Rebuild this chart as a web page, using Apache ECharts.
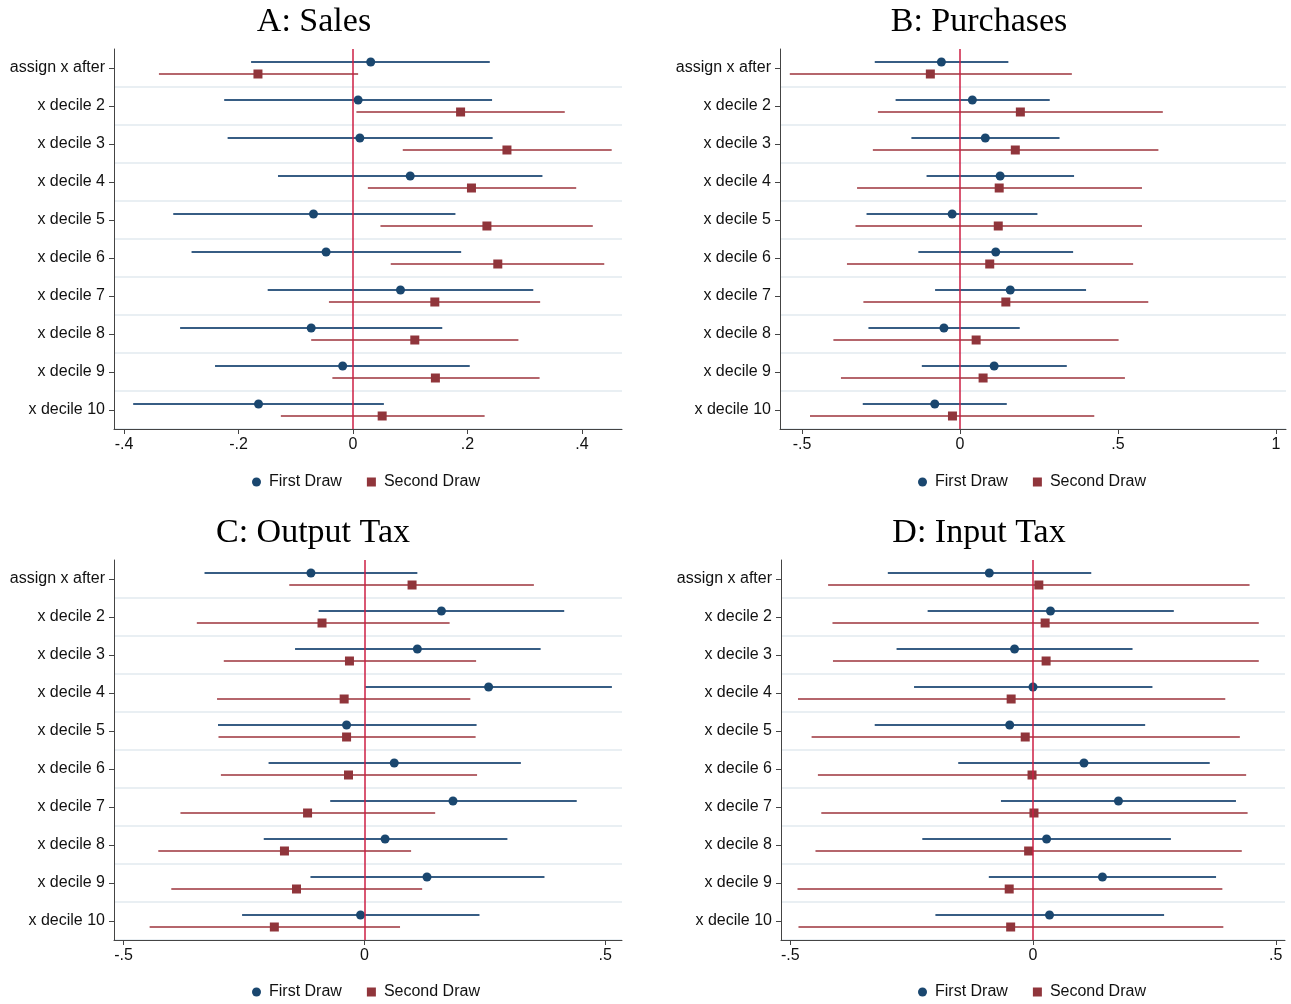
<!DOCTYPE html>
<html>
<head>
<meta charset="utf-8">
<script src="https://cdn.jsdelivr.net/npm/echarts@6/dist/echarts.min.js"></script>
<style>
html,body{margin:0;padding:0;background:#fff;}
#chart{width:1291px;height:1004px;}
</style>
</head>
<body>
<div id="chart"></div>
<script>
// ---------- data ----------
const categories = ['assign x after','x decile 2','x decile 3','x decile 4','x decile 5','x decile 6','x decile 7','x decile 8','x decile 9','x decile 10'];
const panelTitles = ['A: Sales','B: Purchases','C: Output Tax','D: Input Tax'];
const seriesNames = ['First Draw','Second Draw'];

// A: Sales
const salesFirst   = [0.031, 0.009, 0.012, 0.100, -0.069, -0.047, 0.083, -0.073, -0.018, -0.165];
const salesFirstLo = [-0.178, -0.225, -0.219, -0.131, -0.314, -0.282, -0.149, -0.302, -0.241, -0.384];
const salesFirstHi = [0.239, 0.243, 0.244, 0.331, 0.179, 0.189, 0.315, 0.156, 0.204, 0.054];
const salesSecond   = [-0.166, 0.188, 0.269, 0.207, 0.234, 0.253, 0.143, 0.108, 0.144, 0.051];
const salesSecondLo = [-0.339, 0.006, 0.087, 0.026, 0.048, 0.066, -0.042, -0.073, -0.036, -0.126];
const salesSecondHi = [0.009, 0.370, 0.452, 0.390, 0.419, 0.439, 0.327, 0.289, 0.326, 0.230];

// B: Purchases
const purchFirst   = [-0.059, 0.039, 0.080, 0.127, -0.025, 0.113, 0.159, -0.051, 0.108, -0.080];
const purchFirstLo = [-0.270, -0.204, -0.154, -0.106, -0.296, -0.132, -0.079, -0.290, -0.121, -0.308];
const purchFirstHi = [0.153, 0.284, 0.315, 0.361, 0.245, 0.358, 0.399, 0.189, 0.338, 0.148];
const purchSecond   = [-0.094, 0.191, 0.175, 0.124, 0.121, 0.094, 0.145, 0.051, 0.073, -0.024];
const purchSecondLo = [-0.539, -0.260, -0.276, -0.326, -0.331, -0.358, -0.306, -0.401, -0.377, -0.475];
const purchSecondHi = [0.354, 0.642, 0.628, 0.576, 0.576, 0.548, 0.596, 0.502, 0.522, 0.425];

// C: Output Tax
const outFirst   = [-0.111, 0.160, 0.110, 0.258, -0.037, 0.062, 0.184, 0.043, 0.130, -0.008];
const outFirstLo = [-0.332, -0.095, -0.144, 0.002, -0.304, -0.199, -0.071, -0.209, -0.112, -0.254];
const outFirstHi = [0.110, 0.415, 0.366, 0.514, 0.233, 0.325, 0.441, 0.297, 0.374, 0.239];
const outSecond   = [0.099, -0.088, -0.031, -0.042, -0.037, -0.033, -0.118, -0.166, -0.141, -0.187];
const outSecondLo = [-0.156, -0.348, -0.292, -0.306, -0.303, -0.298, -0.382, -0.428, -0.401, -0.446];
const outSecondHi = [0.352, 0.177, 0.232, 0.220, 0.231, 0.234, 0.147, 0.097, 0.120, 0.074];

// D: Input Tax
const inFirst   = [-0.090, 0.036, -0.038, 0.000, -0.048, 0.105, 0.176, 0.028, 0.143, 0.034];
const inFirstLo = [-0.299, -0.217, -0.281, -0.245, -0.326, -0.154, -0.066, -0.228, -0.091, -0.201];
const inFirstHi = [0.120, 0.290, 0.205, 0.246, 0.231, 0.364, 0.418, 0.284, 0.377, 0.270];
const inSecond   = [0.012, 0.025, 0.027, -0.045, -0.016, -0.002, 0.002, -0.009, -0.049, -0.046];
const inSecondLo = [-0.422, -0.413, -0.412, -0.484, -0.456, -0.443, -0.436, -0.448, -0.485, -0.483];
const inSecondHi = [0.446, 0.465, 0.465, 0.396, 0.426, 0.439, 0.442, 0.430, 0.390, 0.392];

// x-axis tick labels per panel
const ticksA = [-0.4, -0.2, 0, 0.2, 0.4];
const ticksB = [-0.5, 0, 0.5, 1];
const ticksC = [-0.5, 0, 0.5];
const ticksD = [-0.5, 0, 0.5];

// ---------- layout & style ----------
const panels = [
  {first:[salesFirst,salesFirstLo,salesFirstHi], second:[salesSecond,salesSecondLo,salesSecondHi], ticks:ticksA,
   grid:{left:114, top:49, width:508, height:380}, xmin:-0.4175, xmax:0.47, titleX:309, titleY:0, legendX:247, legendY:469},
  {first:[purchFirst,purchFirstLo,purchFirstHi], second:[purchSecond,purchSecondLo,purchSecondHi], ticks:ticksB,
   grid:{left:780, top:49, width:506, height:380}, xmin:-0.570, xmax:1.032, titleX:974, titleY:0, legendX:913, legendY:469},
  {first:[outFirst,outFirstLo,outFirstHi], second:[outSecond,outSecondLo,outSecondHi], ticks:ticksC,
   grid:{left:114, top:560, width:508, height:380}, xmin:-0.520, xmax:0.535, titleX:308, titleY:511, legendX:247, legendY:979},
  {first:[inFirst,inFirstLo,inFirstHi], second:[inSecond,inSecondLo,inSecondHi], ticks:ticksD,
   grid:{left:781, top:560, width:504, height:380}, xmin:-0.519, xmax:0.519, titleX:974, titleY:511, legendX:913, legendY:979}
];

const NAVY = '#1a476f', MAROON = '#90353b';
const NAVY_CI = '#375d84', MAROON_CI = '#b5666c';
const ZERO = '#cc1f44';
const SANS = 'Liberation Sans';

function fmtTick(v) {
  if (v === 0) return '0';
  let s = String(Math.round(v * 100) / 100);
  return s.replace(/^(-?)0\./, '$1.');
}

function ciSeries(name, idx, lo, hi, color, dy) {
  return {
    type: 'custom', name: name, xAxisIndex: idx, yAxisIndex: idx, silent: true, z: 2,
    data: categories.map((c, i) => [lo[i], hi[i], i]),
    encode: {x: [0, 1], y: 2},
    renderItem: function (params, api) {
      const a = api.coord([api.value(0), api.value(2)]);
      const b = api.coord([api.value(1), api.value(2)]);
      return {type: 'line', shape: {x1: a[0], y1: a[1] + dy, x2: b[0], y2: b[1] + dy},
              style: {stroke: color, lineWidth: 2}};
    }
  };
}

const option = {
  backgroundColor: '#fff',
  animation: false,
  title: [], grid: [], xAxis: [], yAxis: [], legend: [], series: []
};

panels.forEach((p, k) => {
  option.title.push({
    text: panelTitles[k], left: p.titleX, top: p.titleY, textAlign: 'center',
    textStyle: {fontFamily: 'Liberation Serif', fontSize: 34, fontWeight: 'normal', color: '#000'}
  });
  option.grid.push(Object.assign({containLabel: false}, p.grid));
  option.xAxis.push({
    type: 'value', gridIndex: k, min: p.xmin, max: p.xmax,
    axisLine: {show: true, onZero: false, lineStyle: {color: '#444', width: 1}},
    axisTick: {show: true, length: 5, lineStyle: {color: '#444'}, customValues: p.ticks},
    axisLabel: {show: true, margin: 8, fontFamily: SANS, fontSize: 16, color: '#111',
                customValues: p.ticks, formatter: fmtTick},
    splitLine: {show: false}
  });
  option.yAxis.push({
    type: 'category', gridIndex: k, data: categories, inverse: true, boundaryGap: true,
    axisLine: {show: true, onZero: false, lineStyle: {color: '#444', width: 1}},
    axisTick: {show: true, alignWithLabel: true, length: 5, lineStyle: {color: '#444'}},
    axisLabel: {margin: 9, fontFamily: SANS, fontSize: 16, color: '#111'},
    splitLine: {show: true, interval: function (i) { return i !== 0; },
                lineStyle: {color: '#e9eff3', width: 2}}
  });
  option.legend.push({
    left: p.legendX, top: p.legendY, orient: 'horizontal', itemGap: 25,
    itemWidth: 9, itemHeight: 9, selectedMode: false,
    data: [{name: seriesNames[0], icon: 'circle'}, {name: seriesNames[1], icon: 'rect'}],
    textStyle: {fontFamily: SANS, fontSize: 16, color: '#111', padding: [0, 0, 0, 3]}
  });
  option.series.push(ciSeries('ci1_' + k, k, p.first[1], p.first[2], NAVY_CI, -6));
  option.series.push(ciSeries('ci2_' + k, k, p.second[1], p.second[2], MAROON_CI, 6));
  option.series.push({
    type: 'scatter', name: 'zero_' + k, xAxisIndex: k, yAxisIndex: k, data: [], z: 3, silent: true,
    markLine: {silent: true, symbol: 'none', label: {show: false}, animation: false,
               lineStyle: {color: ZERO, width: 1.5, type: 'solid'}, emphasis: {disabled: true},
               data: [{xAxis: 0}]}
  });
  option.series.push({
    type: 'scatter', name: seriesNames[0], xAxisIndex: k, yAxisIndex: k, z: 4,
    symbol: 'circle', symbolSize: 9, symbolOffset: [0, -6],
    itemStyle: {color: NAVY, opacity: 1},
    data: categories.map((c, i) => [p.first[0][i], i])
  });
  option.series.push({
    type: 'scatter', name: seriesNames[1], xAxisIndex: k, yAxisIndex: k, z: 4,
    symbol: 'rect', symbolSize: 9, symbolOffset: [0, 6],
    itemStyle: {color: MAROON, opacity: 1},
    data: categories.map((c, i) => [p.second[0][i], i])
  });
});

const chart = echarts.init(document.getElementById('chart'), null, {renderer: 'canvas'});
chart.setOption(option);
</script>
</body>
</html>
